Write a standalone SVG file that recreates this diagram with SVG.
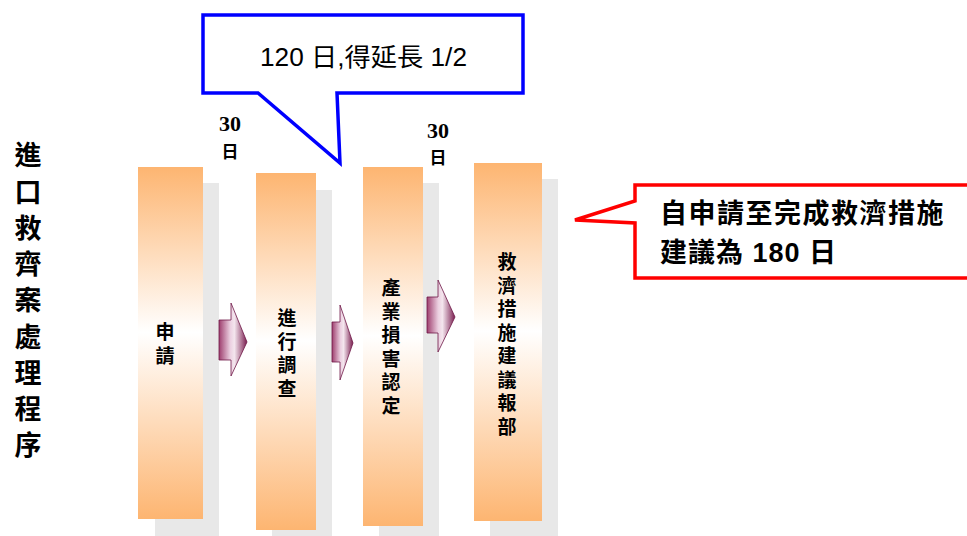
<svg xmlns="http://www.w3.org/2000/svg" width="967" height="536" viewBox="0 0 967 536">
<defs>
<linearGradient id="boxg" x1="0" y1="0" x2="0" y2="1">
<stop offset="0" stop-color="#FDB571"/>
<stop offset="0.47" stop-color="#FFFFFF"/>
<stop offset="1" stop-color="#FDB571"/>
</linearGradient>
<linearGradient id="arrg" x1="0" y1="0" x2="1" y2="0">
<stop offset="0" stop-color="#9E3E6E"/>
<stop offset="0.4" stop-color="#EBCFE0"/>
<stop offset="0.55" stop-color="#F4E6EE"/>
<stop offset="1" stop-color="#7A1E50"/>
</linearGradient>
<style>
.shadow{fill:#E8E8E8}
.box{fill:url(#boxg)}
.lbl{font-family:"Noto Sans CJK TC","Noto Sans CJK SC",sans-serif;font-weight:bold;font-size:19px;fill:#000;writing-mode:vertical-rl;letter-spacing:4.5px}
.title{font-family:"Noto Sans CJK TC","Noto Sans CJK SC",sans-serif;font-weight:bold;font-size:27px;fill:#000;writing-mode:vertical-rl;letter-spacing:9.25px}
.days{font-family:"Liberation Serif","Noto Sans CJK TC",serif;font-weight:bold;font-size:22px;fill:#000;text-anchor:middle}
.daysc{font-family:"Noto Sans CJK TC",sans-serif;font-weight:bold;font-size:17px;fill:#000;text-anchor:middle}
.arrow{fill:url(#arrg);stroke:#6E1848;stroke-width:0.8}
.call{fill:#FFFFFF;stroke-width:3.5;stroke-linejoin:miter}
</style>
</defs>
<rect width="967" height="536" fill="#FFFFFF"/>

<g id="title">
<text class="title" x="28" y="141.5">進口救齊案處理程序</text>
</g>

<g id="node-apply">
<rect class="shadow" x="155" y="183" width="64" height="353"/>
<rect class="box" x="138" y="167" width="65" height="352"/>
<text class="lbl" x="165" y="322.5" letter-spacing="4">申請</text>
</g>

<g id="node-investigate">
<rect class="shadow" x="272" y="190" width="60" height="346"/>
<rect class="box" x="256" y="173" width="60" height="357"/>
<text class="lbl" x="287" y="308.5" letter-spacing="5">進行調查</text>
</g>

<g id="node-injury">
<rect class="shadow" x="379" y="183" width="60" height="353"/>
<rect class="box" x="363" y="167" width="60" height="359"/>
<text class="lbl" x="391" y="278.5" letter-spacing="4">產業損害認定</text>
</g>

<g id="node-remedy">
<rect class="shadow" x="490" y="179" width="68" height="357"/>
<rect class="box" x="474" y="163" width="68" height="358"/>
<text class="lbl" x="507" y="252.5" letter-spacing="4.6">救濟措施建議報部</text>
</g>

<g id="connectors">
<polygon class="arrow" points="219,320 231,320 231,303 247,342 231,376 231,360 219,360"/>
<polygon class="arrow" points="332,322 340,322 340,305 353,343 340,380 340,362 332,362"/>
<polygon class="arrow" points="427,297 438,297 438,280 455,317 438,352 438,333 427,333"/>
</g>

<g id="label-30a">
<text class="days" x="230" y="131">30</text>
<text class="daysc" x="230" y="158">日</text>
</g>
<g id="label-30b">
<text class="days" x="438" y="138">30</text>
<text class="daysc" x="438" y="164">日</text>
</g>

<g id="callout-blue">
<path class="call" stroke="#0000FF" d="M203,15 L523,15 L523,93 L337,93 L340,163 L258,93 L203,93 Z"/>
<text x="260" y="66" font-family="'Liberation Sans','Noto Sans CJK TC',sans-serif" font-size="25" textLength="207" lengthAdjust="spacingAndGlyphs" fill="#000">120 日,得延長 1/2</text>
</g>

<g id="callout-red">
<path class="call" stroke="#FF0000" d="M970,185 L635,185 L635,201 L575,220 L635,223 L635,278 L970,278"/>
<text x="660" y="223" font-family="'Liberation Sans','Noto Sans CJK TC',sans-serif" font-weight="bold" font-size="27" letter-spacing="1.5" fill="#000">自申請至完成救濟措施</text>
<text x="660" y="262" font-family="'Liberation Sans','Noto Sans CJK TC',sans-serif" font-weight="bold" font-size="27" letter-spacing="1" fill="#000">建議為 180 日</text>
</g>
</svg>
